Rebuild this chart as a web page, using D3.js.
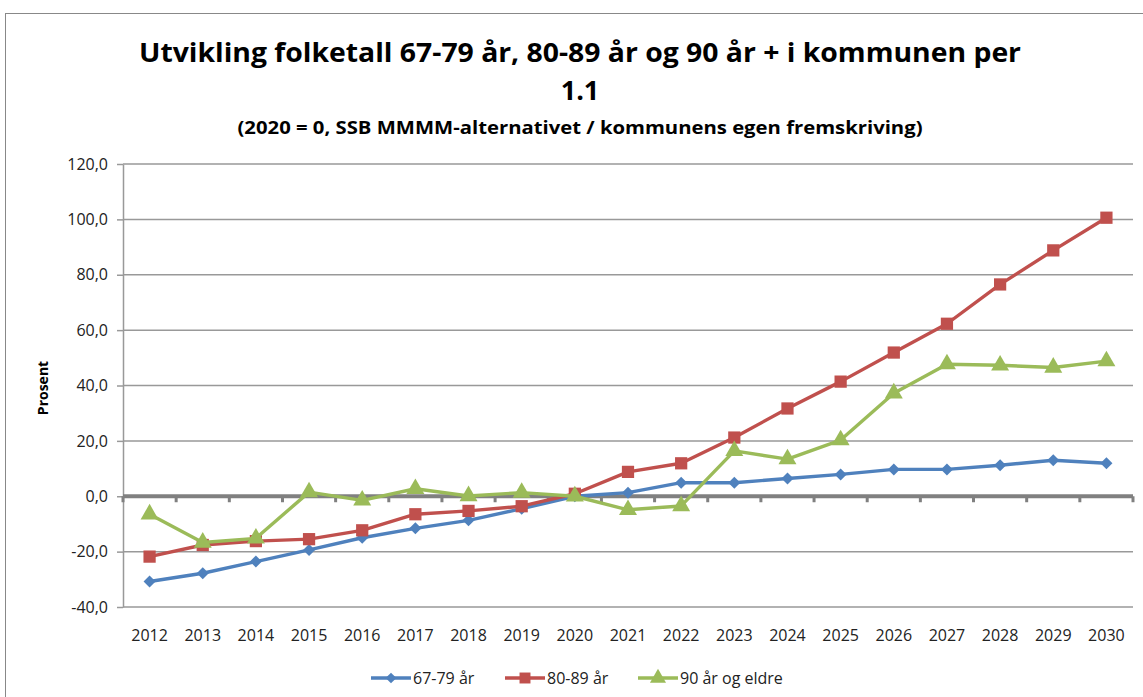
<!DOCTYPE html>
<html>
<head>
<meta charset="utf-8">
<script src="https://cdn.jsdelivr.net/npm/d3@7"></script>
<style>
  body { margin: 0; background: #fff; }
  svg text { font-family: "Open Sans", sans-serif; fill: #000; }
</style>
</head>
<body>
<svg id="canvas" width="1143" height="697"></svg>
<script>
// years on the x axis
const years = [2012, 2013, 2014, 2015, 2016, 2017, 2018, 2019, 2020, 2021,
               2022, 2023, 2024, 2025, 2026, 2027, 2028, 2029, 2030];

// percent change, 2020 = 0
const age67to79 = [-30.8, -27.8, -23.6, -19.4, -15.0, -11.6, -8.7, -4.5, 0.0, 1.3,
                   4.9, 4.9, 6.4, 7.9, 9.7, 9.7, 11.2, 13.0, 11.9];
const age80to89 = [-21.8, -17.6, -16.2, -15.5, -12.3, -6.5, -5.3, -3.6, 0.9, 8.8,
                   11.9, 21.2, 31.7, 41.4, 51.9, 62.3, 76.5, 88.8, 100.6];
const age90plus = [-6.5, -16.7, -15.2, 1.5, -1.5, 2.7, 0.1, 1.3, 0.0, -4.9,
                   -3.5, 16.4, 13.4, 20.3, 37.2, 47.7, 47.3, 46.5, 48.8];

const yTicks = [-40, -20, 0, 20, 40, 60, 80, 100, 120];

const seriesNames = ['67-79 år', '80-89 år', '90 år og eldre'];
const seriesColors = ['#4F81BD', '#C0504D', '#9BBB59'];
const seriesValues = [age67to79, age80to89, age90plus];

// excel style markers: diamond is a square turned 45 degrees
const markerPath = (s, scale) => {
  if (s === 0) return d3.symbol().type(d3.symbolSquare).size(72 * scale)();
  if (s === 1) return d3.symbol().type(d3.symbolSquare).size(150 * scale)();
  return d3.symbol().type(d3.symbolTriangle).size(140 * scale)();
};
const markerRotate = (s) => s === 0 ? ' rotate(45)' : '';

let canvas = d3.select('#canvas');

// outer chart frame (left and top edges visible in the original)
canvas.append('rect')
  .attr('x', 5.5).attr('y', 13.5)
  .attr('width', 1150).attr('height', 700)
  .attr('fill', 'none').attr('stroke', '#888').attr('stroke-width', 1);

let x = d3.scaleBand().domain(years).range([123, 1133]).padding(0);
let y = d3.scaleLinear().domain([-40, 120]).range([607, 164]);

const cx = (year) => x(year) + x.bandwidth() / 2;

// gridlines
canvas.append('g')
  .selectAll('line')
  .data(yTicks.filter(t => t !== 0))
  .enter()
  .append('line')
  .attr('x1', 123).attr('x2', 1133)
  .attr('y1', (d) => y(d)).attr('y2', (d) => y(d))
  .attr('stroke', '#999').attr('stroke-width', 1.5);

// y axis
let yAxis = d3.axisLeft(y)
  .tickValues(yTicks)
  .tickSize(6)
  .tickSizeOuter(0)
  .tickFormat((d) => d.toFixed(1).replace('.', ','));

let yAxisG = canvas.append('g')
  .attr('transform', 'translate(123,0)')
  .call(yAxis);
yAxisG.select('.domain').attr('stroke', '#999').attr('stroke-width', 1.5);
yAxisG.selectAll('.tick line').attr('stroke', '#999').attr('stroke-width', 1.5);
yAxisG.selectAll('.tick text')
  .attr('x', -15)
  .style('font-size', '16px')
  .style('fill', '#222');

// zero line acts as the category axis
canvas.append('line')
  .attr('x1', 123).attr('x2', 1133)
  .attr('y1', y(0)).attr('y2', y(0))
  .attr('stroke', '#808080').attr('stroke-width', 4);

canvas.append('g')
  .selectAll('line')
  .data(years.concat([null]))
  .enter()
  .append('line')
  .attr('x1', (d, i) => i < years.length ? x(d) : x(years[years.length - 1]) + x.bandwidth())
  .attr('x2', (d, i) => i < years.length ? x(d) : x(years[years.length - 1]) + x.bandwidth())
  .attr('y1', y(0)).attr('y2', y(0) + 6)
  .attr('stroke', '#808080').attr('stroke-width', 3);

// year labels under the plot
canvas.append('g')
  .selectAll('text')
  .data(years)
  .enter()
  .append('text')
  .attr('x', (d) => cx(d))
  .attr('y', 641)
  .attr('text-anchor', 'middle')
  .style('font-size', '16px')
  .style('fill', '#222')
  .text((d) => d);

// lines and markers
seriesValues.forEach((values, s) => {
  let line = d3.line()
    .x((d, i) => cx(years[i]))
    .y((d) => y(d));

  canvas.append('path')
    .datum(values)
    .attr('d', line)
    .attr('fill', 'none')
    .attr('stroke', seriesColors[s])
    .attr('stroke-width', 3.4)
    .attr('stroke-linejoin', 'round');

  canvas.append('g')
    .selectAll('path')
    .data(values)
    .enter()
    .append('path')
    .attr('transform', (d, i) => `translate(${cx(years[i])}, ${y(d)})` + markerRotate(s))
    .attr('d', markerPath(s, 1))
    .attr('fill', seriesColors[s]);
});

// titles
canvas.append('text')
  .attr('x', 580).attr('y', 62)
  .attr('text-anchor', 'middle')
  .style('font-size', '27px')
  .style('font-weight', 'bold')
  .attr('textLength', 882)
  .attr('lengthAdjust', 'spacingAndGlyphs')
  .text('Utvikling folketall 67-79 år, 80-89 år og 90 år + i kommunen per');

canvas.append('text')
  .attr('x', 580).attr('y', 100)
  .attr('text-anchor', 'middle')
  .style('font-size', '27px')
  .style('font-weight', 'bold')
  .text('1.1');

canvas.append('text')
  .attr('x', 580).attr('y', 134)
  .attr('text-anchor', 'middle')
  .style('font-size', '18px')
  .style('font-weight', 'bold')
  .attr('textLength', 685)
  .attr('lengthAdjust', 'spacingAndGlyphs')
  .text('(2020 = 0, SSB MMMM-alternativet / kommunens egen fremskriving)');

// y axis title
canvas.append('text')
  .attr('transform', 'translate(48, 388) rotate(-90)')
  .attr('text-anchor', 'middle')
  .style('font-size', '14px')
  .style('font-weight', 'bold')
  .text('Prosent');

// legend
const legendX = [371, 505, 638];
let legend = canvas.append('g')
  .selectAll('g')
  .data(seriesNames)
  .enter()
  .append('g')
  .attr('transform', (d, i) => `translate(${legendX[i]}, 678)`);

legend.append('line')
  .attr('x1', 0).attr('x2', 40)
  .attr('stroke', (d, i) => seriesColors[i])
  .attr('stroke-width', 3.4);

legend.append('path')
  .attr('transform', (d, i) => 'translate(20,0)' + markerRotate(i))
  .attr('d', (d, i) => markerPath(i, 0.8))
  .attr('fill', (d, i) => seriesColors[i]);

legend.append('text')
  .attr('x', 42).attr('y', 5.5)
  .style('font-size', '16px')
  .style('fill', '#222')
  .text((d) => d);
</script>
</body>
</html>
